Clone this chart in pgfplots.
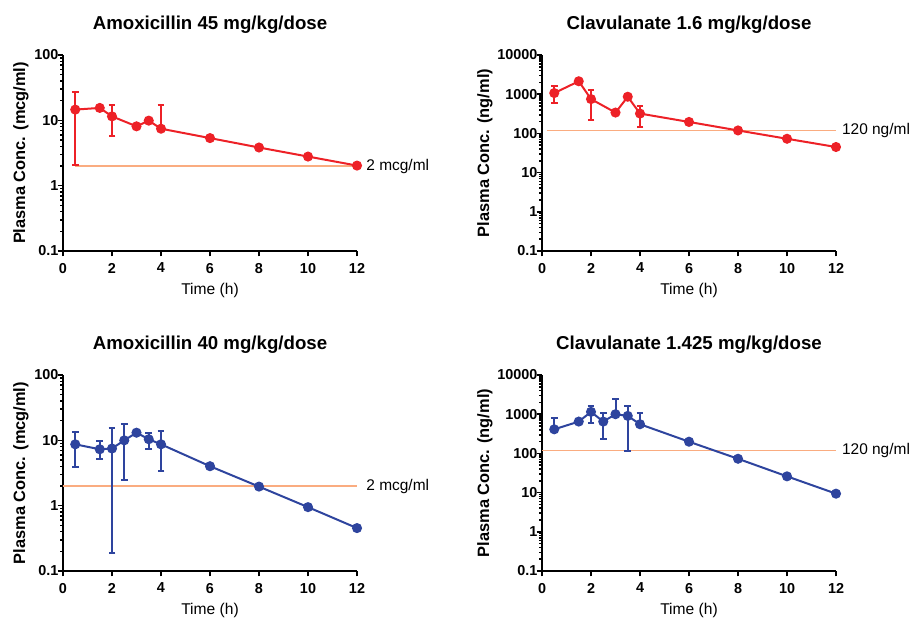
\documentclass[border=0pt]{standalone}
\usepackage{fontspec}
\setmainfont{Liberation Sans}
\usepackage{pgfplots}
\usepackage{pgfplotstable}
\pgfplotsset{compat=1.18}

\definecolor{pkred}{RGB}{237,33,39}
\definecolor{pkblue}{RGB}{46,68,158}
\definecolor{micline}{RGB}{250,172,128}

% x = time (h), y = mean conc., ep / em = upper / lower error
\pgfplotstableread{
x    y     ep     em
0.5  14.6  12.4   12.55
1.5  15.5  0      0
2    11.5  5.9    5.7
3    8.1   0      0
3.5  9.9   0      0
4    7.45  9.55   0
6    5.35  0      0
8    3.84  0      0
10   2.79  0      0
12   2.03  0      0
}\amoxhigh

\pgfplotstableread{
x    y     ep     em
0.5  1070  585    477
1.5  2140  0      0
2    751   529    531
3    340   0      0
3.5  862   0      0
4    321   165    173
6    196   0      0
8    119   0      0
10   73    0      0
12   45    0      0
}\clavhigh

\pgfplotstableread{
x    y     ep     em
0.5  8.7   4.7    4.85
1.5  7.3   2.4    2.1
2    7.5   7.8    7.308
2.5  10    8      7.51
3    13.1  0      0
3.5  10.4  2.4    2.9
4    8.7   5.0    5.36
6    4.02  0      0
8    1.96  0      0
10   0.95  0      0
12   0.454 0      0
}\amoxlow

\pgfplotstableread{
x    y     ep     em
0.5  412   410    0
1.5  649   0      0
2    1148  488    537
2.5  649   412    411
3    1000  1377   0
3.5  906   730    794
4    555   549    0
6    199   0      0
8    73    0      0
10   26    0      0
12   9.4   0      0
}\clavlow

\tikzset{cutlabel/.style={anchor=west, xshift=3.5pt, font=\fontsize{11.6}{14}\selectfont}}

\pgfplotsset{
  every axis/.append style={
    scale only axis, width=220.5pt, height=147pt,
    xmin=0, xmax=12,
    axis x line*=bottom, axis y line*=left,
    axis line style={line width=1.6pt, -},
    xtick={0,2,...,12}, xticklabels={0,2,4,6,8,10,12},
    tick align=outside, major tick length=4pt, minor tick length=2.2pt,
    tick style={black, line width=1.2pt},
    tick label style={font=\bfseries\fontsize{10.8}{12}\selectfont},
    xticklabel style={yshift=-1.5pt},
    yticklabel style={xshift=4pt},
    title style={yshift=6.75pt, font=\bfseries\fontsize{14}{16}\selectfont},
    xlabel style={at={(axis description cs:0.5,0)}, anchor=base, yshift=-32.5pt,
      font=\fontsize{11.7}{13}\selectfont},
    ylabel style={font=\bfseries\fontsize{12.3}{14}\selectfont},
    xlabel={Time (h)},
    clip=false,
  },
}

\begin{document}
\begin{tikzpicture}
\path[use as bounding box] (0,0) rectangle (684pt,-463.5pt);

\begin{semilogyaxis}[at={(47.25pt,-188.25pt)}, anchor=south west,
  ymin=0.1, ymax=100,
  ytick={0.1,1,10,100}, yticklabels={0.1,1,10,100},
  minor ytick={0.2,0.3,0.4,0.5,0.6,0.7,0.8,0.9,2,3,4,5,6,7,8,9,20,30,40,50,60,70,80,90},
  ylabel={Plasma Conc. (mcg/ml)},
  ylabel style={at={([xshift=-28.5pt]axis description cs:0,0.5)}, anchor=base},
  title={Amoxicillin 45 mg/kg/dose}]
\addplot[micline, line width=0.9pt, forget plot] coordinates {(0.5,2) (12,2)};
\addplot[pkred, line width=1.5pt, mark=*, mark size=3pt,
  error bars/y dir=both, error bars/y explicit,
  error bars/error bar style={line width=1.5pt},
  error bars/error mark options={rotate=90, line width=1.5pt, mark size=2.6pt}]
  table[x=x, y=y, y error plus=ep, y error minus=em] {\amoxhigh};
\node[cutlabel] at (axis cs:12,2) {2 mcg/ml};
\end{semilogyaxis}

\begin{semilogyaxis}[at={(406.5pt,-188.25pt)}, anchor=south west,
  ymin=0.1, ymax=10000,
  ytick={0.1,1,10,100,1000,10000}, yticklabels={0.1,1,10,100,1000,10000},
  minor ytick={0.2,0.3,0.4,0.5,0.6,0.7,0.8,0.9,2,3,4,5,6,7,8,9,20,30,40,50,60,70,80,90,
    200,300,400,500,600,700,800,900,2000,3000,4000,5000,6000,7000,8000,9000},
  ylabel={Plasma Conc. (ng/ml)},
  ylabel style={at={([xshift=-39.75pt]axis description cs:0,0.5)}, anchor=base},
  title={Clavulanate 1.6 mg/kg/dose}]
\addplot[micline, line width=0.9pt, forget plot] coordinates {(0.2,120) (12,120)};
\addplot[pkred, line width=1.5pt, mark=*, mark size=3pt,
  error bars/y dir=both, error bars/y explicit,
  error bars/error bar style={line width=1.5pt},
  error bars/error mark options={rotate=90, line width=1.5pt, mark size=2.6pt}]
  table[x=x, y=y, y error plus=ep, y error minus=em] {\clavhigh};
\node[cutlabel, xshift=-2.5pt] at (axis cs:12,120) {120 ng/ml};
\end{semilogyaxis}

\begin{semilogyaxis}[at={(47.25pt,-428.25pt)}, anchor=south west,
  ymin=0.1, ymax=100,
  ytick={0.1,1,10,100}, yticklabels={0.1,1,10,100},
  minor ytick={0.2,0.3,0.4,0.5,0.6,0.7,0.8,0.9,2,3,4,5,6,7,8,9,20,30,40,50,60,70,80,90},
  ylabel={Plasma Conc. (mcg/ml)},
  ylabel style={at={([xshift=-28.5pt]axis description cs:0,0.5)}, anchor=base},
  title={Amoxicillin 40 mg/kg/dose}]
\addplot[micline, line width=0.9pt, forget plot] coordinates {(0,2) (12,2)};
\addplot[pkblue, line width=1.5pt, mark=*, mark size=3pt,
  error bars/y dir=both, error bars/y explicit,
  error bars/error bar style={line width=1.5pt},
  error bars/error mark options={rotate=90, line width=1.5pt, mark size=2.6pt}]
  table[x=x, y=y, y error plus=ep, y error minus=em] {\amoxlow};
\node[cutlabel] at (axis cs:12,2) {2 mcg/ml};
\end{semilogyaxis}

\begin{semilogyaxis}[at={(406.5pt,-428.25pt)}, anchor=south west,
  ymin=0.1, ymax=10000,
  ytick={0.1,1,10,100,1000,10000}, yticklabels={0.1,1,10,100,1000,10000},
  minor ytick={0.2,0.3,0.4,0.5,0.6,0.7,0.8,0.9,2,3,4,5,6,7,8,9,20,30,40,50,60,70,80,90,
    200,300,400,500,600,700,800,900,2000,3000,4000,5000,6000,7000,8000,9000},
  ylabel={Plasma Conc. (ng/ml)},
  ylabel style={at={([xshift=-39.75pt]axis description cs:0,0.5)}, anchor=base},
  title={Clavulanate 1.425 mg/kg/dose}]
\addplot[micline, line width=0.9pt, forget plot] coordinates {(0,120) (12,120)};
\addplot[pkblue, line width=1.5pt, mark=*, mark size=3pt,
  error bars/y dir=both, error bars/y explicit,
  error bars/error bar style={line width=1.5pt},
  error bars/error mark options={rotate=90, line width=1.5pt, mark size=2.6pt}]
  table[x=x, y=y, y error plus=ep, y error minus=em] {\clavlow};
\node[cutlabel, xshift=-2.5pt] at (axis cs:12,120) {120 ng/ml};
\end{semilogyaxis}
\end{tikzpicture}
\end{document}
